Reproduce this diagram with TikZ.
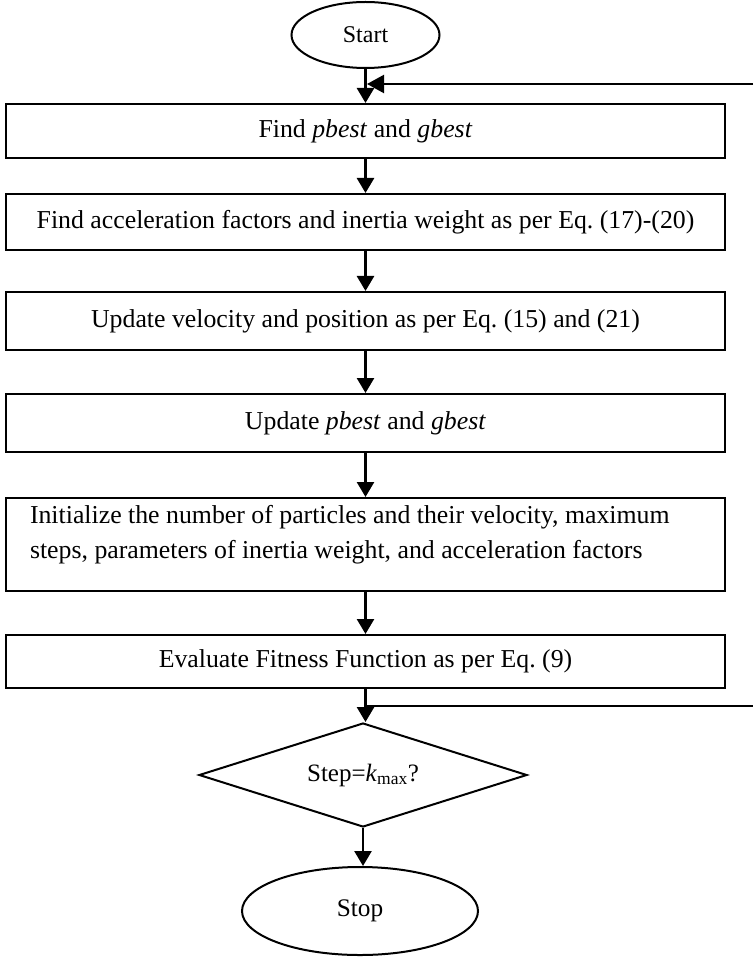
\documentclass[tikz,border=0pt]{standalone}
\usepackage{fontspec}
\setmainfont{Liberation Serif}
\frenchspacing
\usetikzlibrary{shapes.geometric,arrows.meta}
\begin{document}
\begin{tikzpicture}[x=1pt,y=-1pt,
  every node/.style={font=\fontsize{25.8}{35}\selectfont},
  procbox/.style={draw,line width=2pt,rectangle,minimum width=719pt,inner sep=0pt,anchor=center},
  term/.style={draw,line width=2pt,ellipse,inner sep=0pt},
  decis/.style={draw,line width=2pt,diamond,inner sep=0pt,minimum width=328pt,minimum height=104pt,aspect=3.15},
  flow/.style={line width=2.6pt,-{Triangle[length=15pt,width=17pt]}},
  fb/.style={line width=2.2pt}]
\useasboundingbox (0,0) rectangle (753,957);
\node[term,minimum width=148pt,minimum height=66pt,font=\fontsize{24}{28}\selectfont] (start) at (365.5,35) {Start};
\node[procbox,minimum height=54pt] (b1) at (365.5,131) {Find \textit{pbest} and \textit{gbest}};
\node[procbox,minimum height=56pt] (b2) at (365.5,222) {Find acceleration factors and inertia weight as per Eq.~(17)-(20)};
\node[procbox,minimum height=58pt] (b3) at (365.5,321) {Update velocity and position as per Eq.~(15) and (21)};
\node[procbox,minimum height=58pt] (b4) at (365.5,423) {Update \textit{pbest} and \textit{gbest}};
\node[procbox,minimum height=93pt] (b5) at (365.5,544.5) {\raisebox{10pt}[\height][\depth]{\parbox{671pt}{\raggedright Initialize the number of particles and their velocity, maximum\\steps, parameters of inertia weight, and acceleration factors}}};
\node[procbox,minimum height=53pt] (b6) at (365.5,661.5) {Evaluate Fitness Function as per Eq.~(9)};
\node[decis,font=\fontsize{25}{28}\selectfont] (dec) at (363,775) {Step=\textit{k}\textsubscript{max}?};
\node[term,minimum width=236pt,minimum height=88pt,font=\fontsize{25.3}{28}\selectfont] (stop) at (360,911) {Stop};
\coordinate (j1) at (365.5,84);
\coordinate (fbin) at (753,84);
\coordinate (j2) at (365.5,706);
\coordinate (fbout) at (753,706);
\draw[flow] (start.south) -- (b1.north);
\draw[flow] (b1) -- (b2);
\draw[flow] (b2) -- (b3);
\draw[flow] (b3) -- (b4);
\draw[flow] (b4) -- (b5);
\draw[flow] (b5) -- (b6);
\draw[flow] (b6.south) -- (b6.south |- dec.north);
\draw[flow] (dec.south) -- (dec.south |- stop.north);
\draw[fb,-{Triangle[length=17pt,width=18pt]},shorten >=1.5pt] (fbin) -- (j1);
\draw[fb] (j2) -- (fbout);
\end{tikzpicture}
\end{document}
